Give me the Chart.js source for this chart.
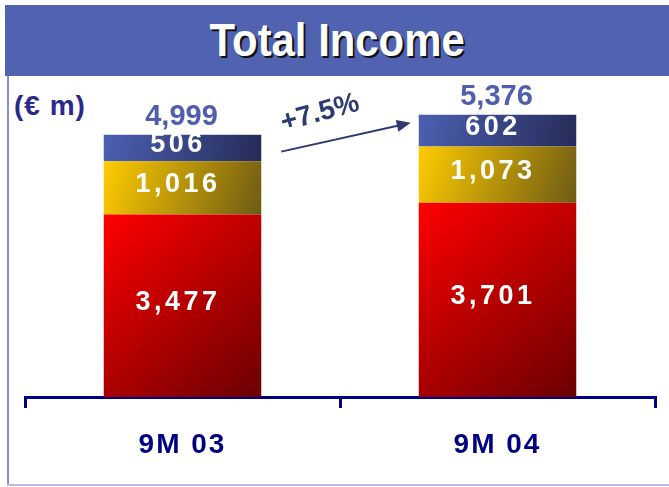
<!DOCTYPE html>
<html>
<head>
<meta charset="utf-8">
<script src="https://cdn.jsdelivr.net/npm/chart.js@4/dist/chart.umd.min.js"></script>
<style>
  html, body { margin: 0; padding: 0; background: #fff; }
  #wrap { position: relative; width: 669px; height: 487px; overflow: hidden; font-family: Arial, "Liberation Sans", sans-serif; }
  #banner { position: absolute; left: 5px; top: 5px; width: 664px; height: 71px; background: #5062b0; text-align: center; }
  #banner span { display: inline-block; color: #fff; font-weight: bold; font-size: 46px; line-height: 71px; transform: scaleX(0.91); text-shadow: 2px 2px 0 #111; }
  #frameL { position: absolute; left: 7px; top: 76px; width: 2px; height: 410px; background: #8a8fd0; }
  #frameB { position: absolute; left: 7px; top: 484px; width: 662px; height: 2px; background: #b8bce6; }
  #unit { position: absolute; left: 14px; top: 90px; color: #2a2a8c; font-weight: bold; font-size: 28px; letter-spacing: 1px; }
  canvas { position: absolute; left: 0; top: 0; }
</style>
</head>
<body>
<div id="wrap">
  <div id="banner"><span>Total Income</span></div>
  <div id="frameL"></div>
  <div id="frameB"></div>
  <div id="unit">(€ m)</div>
  <canvas id="chart" width="669" height="487"></canvas>
</div>
<script>
const categories = ['9M 03', '9M 04']
const coreIncome = [3477, 3701]
const midIncome = [1016, 1073]
const topIncome = [506, 602]
const totalLabels = ['4,999', '5,376']
const growthLabel = '+7.5%'

const series = [coreIncome, midIncome, topIncome]
const gradientStops = [
  ['#ff0000', '#6a0000'],
  ['#ffcc00', '#6e5a14'],
  ['#4c60b2', '#262c58']
]

function segmentGradient (context) {
  const { chart, datasetIndex, dataIndex } = context
  const area = chart.chartArea
  const stops = gradientStops[datasetIndex]
  if (!area || dataIndex === undefined) return stops[0]
  const xs = chart.scales.x
  const ys = chart.scales.y
  let below = 0
  for (let i = 0; i < datasetIndex; i++) below += series[i][dataIndex]
  const above = below + series[datasetIndex][dataIndex]
  const half = xs.width / categories.length * 0.25
  const xc = xs.getPixelForValue(dataIndex)
  const g = chart.ctx.createLinearGradient(xc - half, ys.getPixelForValue(above), xc + half, ys.getPixelForValue(below))
  g.addColorStop(0, stops[0])
  g.addColorStop(1, stops[1])
  return g
}

const spacingPlugin = {
  id: 'spacing',
  beforeDraw (chart) { chart.ctx.letterSpacing = '2px' }
}

const labelPlugin = {
  id: 'labels',
  afterDatasetsDraw (chart) {
    const ctx = chart.ctx
    ctx.save()
    ctx.textAlign = 'center'
    ctx.textBaseline = 'middle'
    chart.data.datasets.forEach((ds, di) => {
      chart.getDatasetMeta(di).data.forEach((bar, i) => {
        const mid = (bar.y + bar.base) / 2
        ctx.fillStyle = '#fff'
        ctx.font = 'bold 27px Arial, "Liberation Sans"'
        ctx.letterSpacing = '3.5px'
        ctx.fillText(ds.data[i].toLocaleString('en-US'), bar.x - 4.5, mid - 3)
      })
    })
    const topMeta = chart.getDatasetMeta(chart.data.datasets.length - 1)
    ctx.textBaseline = 'alphabetic'
    topMeta.data.forEach((bar, i) => {
      ctx.fillStyle = '#4f5fae'
      ctx.font = 'bold 29px Arial, "Liberation Sans"'
      ctx.letterSpacing = '0px'
      ctx.fillText(totalLabels[i], bar.x - 1, bar.y - 10)
    })
    // growth arrow between the two bars
    const b0 = topMeta.data[0]
    const b1 = topMeta.data[1]
    const x0 = b0.x + b0.width / 2 + 20
    const y0 = b0.y + 17
    const x1 = b1.x - b1.width / 2 - 8
    const y1 = b1.y + 8
    const ang = Math.atan2(y1 - y0, x1 - x0)
    ctx.strokeStyle = '#2e3a72'
    ctx.fillStyle = '#2e3a72'
    ctx.lineWidth = 2
    ctx.beginPath()
    ctx.moveTo(x0, y0)
    ctx.lineTo(x1 - 10 * Math.cos(ang), y1 - 10 * Math.sin(ang))
    ctx.stroke()
    ctx.beginPath()
    ctx.moveTo(x1, y1)
    ctx.lineTo(x1 - 14 * Math.cos(ang) + 6 * Math.sin(ang), y1 - 14 * Math.sin(ang) - 6 * Math.cos(ang))
    ctx.lineTo(x1 - 14 * Math.cos(ang) - 6 * Math.sin(ang), y1 - 14 * Math.sin(ang) + 6 * Math.cos(ang))
    ctx.closePath()
    ctx.fill()
    ctx.translate((x0 + x1) / 2 - 26, (y0 + y1) / 2 - 24)
    ctx.rotate(ang - 0.05)
    ctx.textBaseline = 'middle'
    ctx.font = 'bold 28px Arial, "Liberation Sans"'
    ctx.fillText(growthLabel, 0, 0)
    ctx.restore()
  }
}

new Chart(document.getElementById('chart').getContext('2d'), {
  type: 'bar',
  data: {
    labels: categories,
    datasets: series.map((values) => ({
      data: values,
      backgroundColor: segmentGradient,
      borderWidth: 0,
      barPercentage: 0.5,
      categoryPercentage: 1.0
    }))
  },
  options: {
    responsive: false,
    animation: false,
    layout: { padding: { left: 25, right: 14, top: 80, bottom: 0 } },
    plugins: { legend: { display: false }, tooltip: { enabled: false } },
    scales: {
      x: {
        stacked: true,
        offset: true,
        afterFit: (scale) => { scale.height = 90 },
        border: { color: '#000080', width: 3 },
        grid: { offset: true, drawOnChartArea: false, color: '#000080', lineWidth: 3, tickLength: 11 },
        ticks: { color: '#000080', padding: 20, font: { family: 'Arial, "Liberation Sans"', size: 28, weight: 'bold' } }
      },
      y: { stacked: true, display: false, min: 0, max: 6040 }
    }
  },
  plugins: [spacingPlugin, labelPlugin]
})
</script>
</body>
</html>
